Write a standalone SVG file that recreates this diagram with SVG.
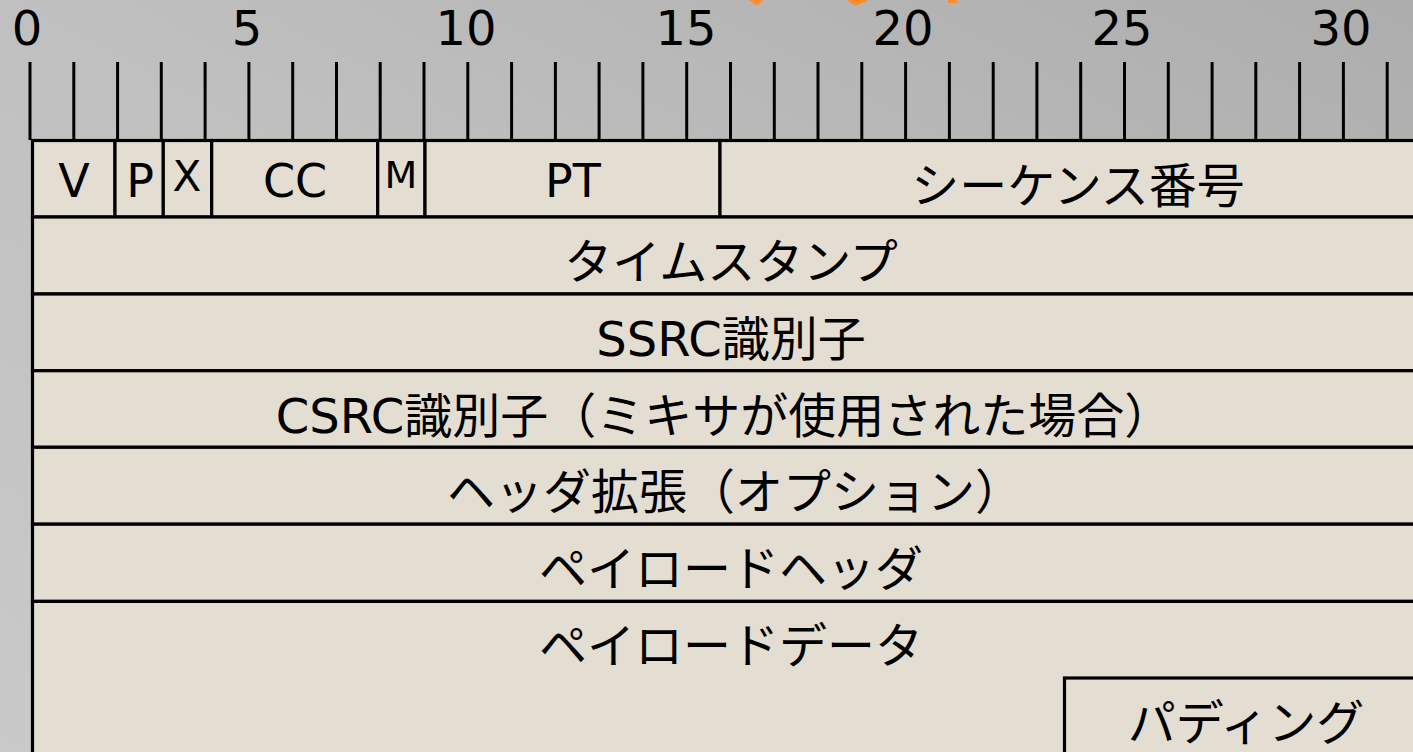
<svg xmlns="http://www.w3.org/2000/svg" width="1413" height="752" viewBox="0 0 1413 752">
  <defs>
    <linearGradient id="bg" x1="1" y1="0" x2="0" y2="1">
      <stop offset="0" stop-color="#adadad"/>
      <stop offset="0.5" stop-color="#c0c0c0"/>
      <stop offset="1" stop-color="#c9c9c9"/>
    </linearGradient>
  </defs>
  <style>
    .cell { fill: #e3ddd2; stroke: #000; stroke-width: 3.2; }
    .tick { stroke: #000; stroke-width: 3; }
    .num { font-family: "DejaVu Sans", sans-serif; font-size: 48px; fill: #000; text-anchor: middle; }
    .lbl { font-family: "DejaVu Sans", "Noto Sans CJK JP", sans-serif; font-size: 46px; fill: #000; text-anchor: middle; }
    .jp { font-size: 48px; }
    .orange { fill: #ff8c2e; }
  </style>
  <rect x="0" y="0" width="1413" height="752" fill="url(#bg)"/>
  <g id="top-marks">
    <polygon class="orange" points="749,0 763,0 757,6"/>
    <polygon class="orange" points="848,0 868,0 865,2 856,6 850,3"/>
    <rect class="orange" x="948" y="0" width="9" height="3"/>
  </g>
  <g id="ruler">
    <g class="tick">
      <line x1="30" y1="62" x2="30" y2="140"/>
      <line x1="73.8" y1="62" x2="73.8" y2="140"/>
      <line x1="117.6" y1="62" x2="117.6" y2="140"/>
      <line x1="161.3" y1="62" x2="161.3" y2="140"/>
      <line x1="205.1" y1="62" x2="205.1" y2="140"/>
      <line x1="248.9" y1="62" x2="248.9" y2="140"/>
      <line x1="292.7" y1="62" x2="292.7" y2="140"/>
      <line x1="336.5" y1="62" x2="336.5" y2="140"/>
      <line x1="380.2" y1="62" x2="380.2" y2="140"/>
      <line x1="424" y1="62" x2="424" y2="140"/>
      <line x1="467.8" y1="62" x2="467.8" y2="140"/>
      <line x1="511.6" y1="62" x2="511.6" y2="140"/>
      <line x1="555.4" y1="62" x2="555.4" y2="140"/>
      <line x1="599.1" y1="62" x2="599.1" y2="140"/>
      <line x1="642.9" y1="62" x2="642.9" y2="140"/>
      <line x1="686.7" y1="62" x2="686.7" y2="140"/>
      <line x1="730.5" y1="62" x2="730.5" y2="140"/>
      <line x1="774.3" y1="62" x2="774.3" y2="140"/>
      <line x1="818" y1="62" x2="818" y2="140"/>
      <line x1="861.8" y1="62" x2="861.8" y2="140"/>
      <line x1="905.6" y1="62" x2="905.6" y2="140"/>
      <line x1="949.4" y1="62" x2="949.4" y2="140"/>
      <line x1="993.2" y1="62" x2="993.2" y2="140"/>
      <line x1="1036.9" y1="62" x2="1036.9" y2="140"/>
      <line x1="1080.7" y1="62" x2="1080.7" y2="140"/>
      <line x1="1124.5" y1="62" x2="1124.5" y2="140"/>
      <line x1="1168.3" y1="62" x2="1168.3" y2="140"/>
      <line x1="1212.1" y1="62" x2="1212.1" y2="140"/>
      <line x1="1255.8" y1="62" x2="1255.8" y2="140"/>
      <line x1="1299.6" y1="62" x2="1299.6" y2="140"/>
      <line x1="1343.4" y1="62" x2="1343.4" y2="140"/>
      <line x1="1387.2" y1="62" x2="1387.2" y2="140"/>
    </g>
    <text class="num" x="27" y="45">0</text>
    <text class="num" x="247" y="45">5</text>
    <text class="num" x="466" y="45">10</text>
    <text class="num" x="686" y="45">15</text>
    <text class="num" x="903" y="45">20</text>
    <text class="num" x="1122" y="45">25</text>
    <text class="num" x="1341" y="45">30</text>
  </g>
  <g id="row1">
    <g id="field-v"><rect class="cell" x="32.5" y="140.5" width="82.5" height="76.5"/><text class="lbl" x="74" y="197">V</text></g>
    <g id="field-p"><rect class="cell" x="115" y="140.5" width="48.3" height="76.5"/><text class="lbl" x="140" y="197">P</text></g>
    <g id="field-x"><rect class="cell" x="163.3" y="140.5" width="48.4" height="76.5"/><text class="lbl" x="187" y="191" style="font-size:42px">X</text></g>
    <g id="field-cc"><rect class="cell" x="211.7" y="140.5" width="166" height="76.5"/><text class="lbl" x="295" y="197">CC</text></g>
    <g id="field-m"><rect class="cell" x="377.7" y="140.5" width="47.3" height="76.5"/><text class="lbl" x="401" y="188" style="font-size:38px">M</text></g>
    <g id="field-pt"><rect class="cell" x="425" y="140.5" width="295" height="76.5"/><text class="lbl" x="573" y="197">PT</text></g>
    <g id="field-seq"><rect class="cell" x="720" y="140.5" width="720" height="76.5"/><text class="lbl jp" x="1078" y="203">シーケンス番号</text></g>
  </g>
  <g id="row-timestamp"><rect class="cell" x="32.5" y="217" width="1410" height="77"/><text class="lbl jp" x="731" y="279">タイムスタンプ</text></g>
  <g id="row-ssrc"><rect class="cell" x="32.5" y="294" width="1410" height="76.7"/><text class="lbl jp" x="731" y="356">SSRC識別子</text></g>
  <g id="row-csrc"><rect class="cell" x="32.5" y="370.7" width="1410" height="76.6"/><text class="lbl jp" x="724" y="433">CSRC識別子（ミキサが使用された場合）</text></g>
  <g id="row-ext"><rect class="cell" x="32.5" y="447.3" width="1410" height="76.9"/><text class="lbl jp" x="735" y="509">ヘッダ拡張（オプション）</text></g>
  <g id="row-payload-header"><rect class="cell" x="32.5" y="524.2" width="1410" height="77.2"/><text class="lbl jp" x="731" y="586">ペイロードヘッダ</text></g>
  <g id="row-payload-data"><rect class="cell" x="32.5" y="601.4" width="1410" height="200"/><text class="lbl jp" x="731" y="663">ペイロードデータ</text></g>
  <g id="field-padding"><rect class="cell" x="1064.5" y="678" width="400" height="120"/><text class="lbl jp" x="1246" y="740">パディング</text></g>
</svg>
